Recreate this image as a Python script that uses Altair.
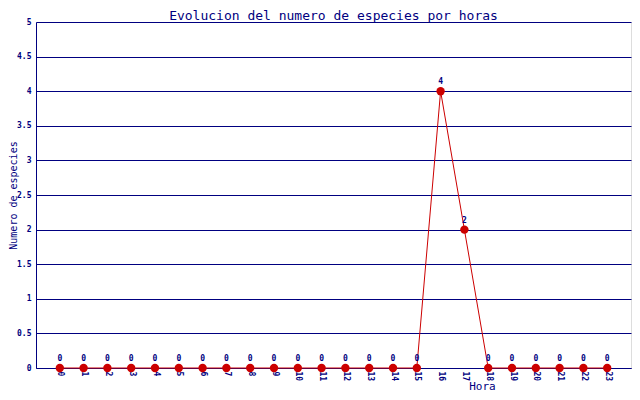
import pandas as pd
import altair as alt

# datos: numero de especies por hora
horas = list(range(24))
especies = [0, 0, 0, 0, 0, 0, 0, 0, 0, 0, 0, 0, 0, 0, 0, 0, 4, 2, 0, 0, 0, 0, 0, 0]
y_ticks = [0, 0.5, 1, 1.5, 2, 2.5, 3, 3.5, 4, 4.5, 5]

df = pd.DataFrame({"hora": horas, "especies": especies})

azul = "#000080"
rojo = "#cc0000"
fuente = "DejaVu Sans Mono"

x_enc = alt.X("hora:O", title="Hora",
              scale=alt.Scale(type="point", padding=1),
              axis=alt.Axis(labelAngle=90, labelAlign="left", labelBaseline="middle",
                            labelPadding=3, labelFontSize=8, labelFont=fuente, labelFontWeight="bold",
                            labelColor=azul, domainColor=azul, ticks=False, grid=False,
                            titleFont=fuente, titleFontSize=11, titleFontWeight="normal", titleColor=azul,
                            titleX=446, titleY=23, titleAlign="center", titleBaseline="bottom"))
y_enc = alt.Y("especies:Q", title="Numero de especies",
              scale=alt.Scale(domain=[0, 5], nice=False),
              axis=alt.Axis(values=y_ticks, format="~g", labelFontSize=8, labelFont=fuente,
                            labelFontWeight="bold", labelColor=azul, labelPadding=5,
                            domainColor=azul, ticks=False,
                            grid=True, gridColor=azul, gridOpacity=1, gridWidth=1,
                            titleFont=fuente, titleFontSize=10, titleFontWeight="normal", titleColor=azul,
                            titleX=-23, titleY=173, titleAngle=270, titleAlign="center",
                            titleBaseline="middle"))

base = alt.Chart(df).encode(x=x_enc, y=y_enc)

linea = base.mark_line(color=rojo, strokeWidth=1)
puntos = base.mark_circle(color=rojo, size=70, opacity=1)
etiquetas = base.mark_text(dy=-9, font=fuente, fontSize=8, fontWeight="bold", color=azul).encode(
    text="especies:Q")

chart = (linea + puntos + etiquetas).properties(
    width=595, height=346,
    autosize="none",
    padding={"left": 28, "top": 14, "right": 1, "bottom": 24},
    title=alt.TitleParams("Evolucion del numero de especies por horas", font=fuente, fontSize=13,
                          fontWeight="normal", color=azul, offset=2, dy=7)
).configure_view(stroke=azul, strokeWidth=1).configure(background="white")

chart.save("out.html", embed_options={"renderer": "svg", "actions": False})
